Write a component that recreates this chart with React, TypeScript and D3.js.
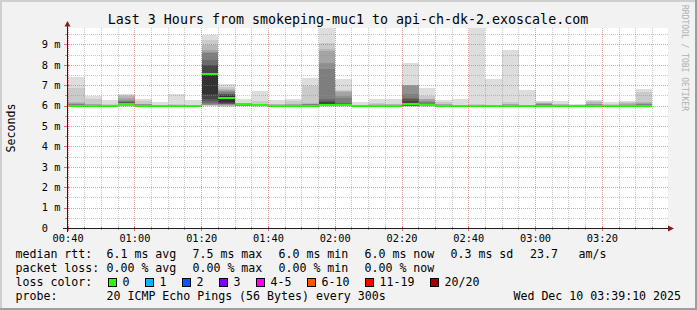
import React from "react";
import * as d3 from "d3";

const TITLE = "Last 3 Hours from smokeping-muc1 to api-ch-dk-2.exoscale.com";

// 5-minute steps (start of each step)
const stepStart = [
  "00:40", "00:45", "00:50", "00:55", "01:00", "01:05", "01:10", "01:15",
  "01:20", "01:25", "01:30", "01:35", "01:40", "01:45", "01:50", "01:55",
  "02:00", "02:05", "02:10", "02:15", "02:20", "02:25", "02:30", "02:35",
  "02:40", "02:45", "02:50", "02:55", "03:00", "03:05", "03:10", "03:15",
  "03:20", "03:25", "03:30",
];

// median rtt per step (ms)
const medianRtt = [
  6.0, 6.0, 6.0, 6.07, 6.0, 6.0, 6.0, 6.0,
  7.54, 6.36, 6.07, 6.01, 5.99, 5.99, 5.99, 6.05,
  6.05, 6.0, 5.99, 5.99, 6.07, 6.05, 6.0, 5.99,
  5.99, 5.99, 5.99, 5.99, 5.99, 5.99, 5.99, 5.99,
  5.99, 5.99, 6.0,
];

// 20 sorted ping rtts per step (ms)
const pingsMs = [
  [5.95, 5.96, 5.97, 5.98, 5.98, 5.99, 5.99, 6.0, 6.0, 6.0, 6.01, 6.02, 6.03, 6.05, 6.08, 6.1, 6.12, 6.18, 6.87, 7.39],
  [5.95, 5.96, 5.97, 5.98, 5.98, 5.99, 5.99, 6.0, 6.0, 6.0, 6.01, 6.01, 6.02, 6.03, 6.04, 6.05, 6.08, 6.1, 6.3, 6.46],
  [5.95, 5.96, 5.97, 5.98, 5.99, 5.99, 6.0, 6.0, 6.0, 6.0, 6.01, 6.01, 6.02, 6.02, 6.03, 6.03, 6.04, 6.05, 6.06, 6.26],
  [5.95, 5.97, 5.98, 6.0, 6.01, 6.02, 6.03, 6.04, 6.05, 6.06, 6.09, 6.12, 6.15, 6.18, 6.22, 6.28, 6.35, 6.45, 6.54, 6.59],
  [5.95, 5.96, 5.97, 5.98, 5.99, 5.99, 6.0, 6.0, 6.0, 6.0, 6.01, 6.02, 6.03, 6.04, 6.05, 6.07, 6.09, 6.1, 6.2, 6.3],
  [5.95, 5.96, 5.97, 5.98, 5.99, 5.99, 6.0, 6.0, 6.0, 6.0, 6.01, 6.01, 6.02, 6.02, 6.03, 6.03, 6.04, 6.04, 6.05, 6.18],
  [5.95, 5.96, 5.97, 5.98, 5.99, 5.99, 6.0, 6.0, 6.0, 6.0, 6.01, 6.01, 6.02, 6.02, 6.03, 6.03, 6.04, 6.05, 6.1, 6.59],
  [5.95, 5.96, 5.97, 5.98, 5.99, 5.99, 6.0, 6.0, 6.0, 6.0, 6.01, 6.01, 6.02, 6.02, 6.03, 6.03, 6.04, 6.04, 6.05, 6.26],
  [5.99, 6.0, 6.01, 6.03, 6.05, 6.08, 6.12, 6.2, 6.31, 6.56, 7.6, 7.98, 8.0, 8.23, 8.58, 8.61, 8.72, 8.98, 9.21, 9.48],
  [5.95, 5.98, 6.0, 6.02, 6.04, 6.06, 6.08, 6.1, 6.12, 6.15, 6.45, 6.5, 6.55, 6.59, 6.65, 6.72, 6.76, 6.8, 6.92, 7.05],
  [5.96, 5.97, 5.98, 5.99, 6.0, 6.01, 6.02, 6.03, 6.04, 6.05, 6.08, 6.09, 6.09, 6.1, 6.1, 6.11, 6.11, 6.12, 6.12, 6.31],
  [5.95, 5.96, 5.97, 5.98, 5.99, 5.99, 6.0, 6.0, 6.0, 6.01, 6.02, 6.03, 6.04, 6.05, 6.06, 6.07, 6.08, 6.1, 6.2, 6.72],
  [5.94, 5.95, 5.96, 5.97, 5.98, 5.98, 5.99, 5.99, 5.99, 6.0, 6.0, 6.01, 6.01, 6.02, 6.03, 6.04, 6.05, 6.07, 6.1, 6.26],
  [5.94, 5.95, 5.96, 5.97, 5.98, 5.98, 5.99, 5.99, 5.99, 6.0, 6.0, 6.01, 6.02, 6.03, 6.04, 6.05, 6.07, 6.1, 6.2, 6.33],
  [5.94, 5.95, 5.96, 5.97, 5.98, 5.98, 5.99, 5.99, 5.99, 6.0, 6.01, 6.02, 6.03, 6.04, 6.06, 6.08, 6.1, 6.13, 6.95, 7.33],
  [5.95, 5.97, 5.98, 5.99, 6.0, 6.0, 6.01, 6.01, 6.02, 6.03, 6.1, 6.15, 6.22, 6.3, 7.77, 8.1, 8.67, 8.79, 9.05, 10.3],
  [5.95, 5.96, 5.97, 5.98, 5.99, 6.0, 6.0, 6.01, 6.02, 6.03, 6.06, 6.08, 6.1, 6.13, 6.38, 6.49, 6.66, 6.7, 6.75, 7.28],
  [5.94, 5.95, 5.96, 5.97, 5.98, 5.98, 5.99, 5.99, 6.0, 6.0, 6.0, 6.01, 6.01, 6.02, 6.02, 6.03, 6.03, 6.04, 6.05, 6.15],
  [5.94, 5.95, 5.96, 5.97, 5.98, 5.98, 5.99, 5.99, 5.99, 6.0, 6.0, 6.01, 6.01, 6.02, 6.03, 6.04, 6.05, 6.07, 6.12, 6.34],
  [5.94, 5.95, 5.96, 5.97, 5.98, 5.98, 5.99, 5.99, 5.99, 6.0, 6.0, 6.01, 6.01, 6.02, 6.03, 6.04, 6.05, 6.06, 6.1, 6.34],
  [5.95, 5.96, 5.97, 5.98, 5.99, 6.0, 6.0, 6.01, 6.02, 6.03, 6.1, 6.21, 6.3, 6.38, 6.58, 6.98, 6.99, 7.0, 7.03, 8.08],
  [5.95, 5.96, 5.97, 5.98, 5.99, 6.0, 6.0, 6.01, 6.02, 6.03, 6.06, 6.07, 6.08, 6.1, 6.15, 6.21, 6.3, 6.33, 6.46, 6.84],
  [5.94, 5.95, 5.96, 5.97, 5.98, 5.98, 5.99, 5.99, 6.0, 6.0, 6.0, 6.01, 6.02, 6.03, 6.04, 6.05, 6.06, 6.08, 6.15, 6.26],
  [5.94, 5.95, 5.96, 5.97, 5.98, 5.98, 5.99, 5.99, 6.0, 6.0, 6.0, 6.01, 6.01, 6.02, 6.02, 6.03, 6.03, 6.04, 6.05, 6.3],
  [5.93, 5.94, 5.95, 5.96, 5.97, 5.98, 5.98, 5.99, 5.99, 5.99, 6.0, 6.0, 6.01, 6.01, 6.02, 6.02, 6.03, 6.04, 6.08, 10.5],
  [5.93, 5.94, 5.95, 5.96, 5.97, 5.98, 5.98, 5.99, 5.99, 5.99, 6.0, 6.0, 6.01, 6.01, 6.02, 6.02, 6.03, 6.04, 6.05, 7.28],
  [5.93, 5.94, 5.95, 5.96, 5.97, 5.98, 5.98, 5.99, 5.99, 5.99, 6.0, 6.0, 6.01, 6.02, 6.03, 6.04, 6.06, 6.1, 6.16, 8.71],
  [5.93, 5.94, 5.95, 5.96, 5.97, 5.98, 5.98, 5.99, 5.99, 5.99, 6.0, 6.0, 6.01, 6.01, 6.02, 6.02, 6.03, 6.04, 6.05, 6.74],
  [5.93, 5.94, 5.95, 5.96, 5.97, 5.98, 5.98, 5.99, 5.99, 5.99, 6.0, 6.01, 6.02, 6.04, 6.06, 6.08, 6.12, 6.14, 6.16, 6.21],
  [5.93, 5.94, 5.95, 5.96, 5.97, 5.98, 5.98, 5.99, 5.99, 5.99, 6.0, 6.0, 6.01, 6.01, 6.02, 6.03, 6.04, 6.06, 6.1, 6.2],
  [5.93, 5.94, 5.95, 5.96, 5.97, 5.98, 5.98, 5.99, 5.99, 5.99, 6.0, 6.0, 6.01, 6.01, 6.02, 6.02, 6.03, 6.04, 6.05, 6.1],
  [5.93, 5.94, 5.95, 5.96, 5.97, 5.98, 5.98, 5.99, 5.99, 5.99, 6.0, 6.01, 6.02, 6.03, 6.04, 6.06, 6.1, 6.18, 6.21, 6.25],
  [5.93, 5.94, 5.95, 5.96, 5.97, 5.98, 5.98, 5.99, 5.99, 5.99, 6.0, 6.0, 6.01, 6.01, 6.02, 6.02, 6.03, 6.04, 6.06, 6.15],
  [5.93, 5.94, 5.95, 5.96, 5.97, 5.98, 5.98, 5.99, 5.99, 5.99, 6.0, 6.0, 6.01, 6.02, 6.03, 6.04, 6.06, 6.12, 6.17, 6.2],
  [5.93, 5.94, 5.95, 5.96, 5.97, 5.98, 5.98, 5.99, 5.99, 6.0, 6.0, 6.01, 6.02, 6.04, 6.07, 6.1, 6.12, 6.16, 6.66, 6.79],
];

const xTickLabels = ["00:40", "01:00", "01:20", "01:40", "02:00", "02:20", "02:40", "03:00", "03:20"];
const yTickValues = [0, 1, 2, 3, 4, 5, 6, 7, 8, 9];
const yTickLabels = ["0", "1 m", "2 m", "3 m", "4 m", "5 m", "6 m", "7 m", "8 m", "9 m"];

const rttLegend = ["6.1 ms avg", "7.5 ms max", "6.0 ms min", "6.0 ms now", "0.3 ms sd"];
const rttExtra = ["23.7", "am/s"];
const lossLegend = ["0.00 % avg", "0.00 % max", "0.00 % min", "0.00 % now"];
const lossLabels = ["0", "1", "2", "3", "4-5", "6-10", "11-19", "20/20"];
const lossColors = ["#26ff00", "#00b8ff", "#0059ff", "#7e00ff", "#ff00ff", "#ff5500", "#ff0000", "#a10000"];
const probeText = "20 ICMP Echo Pings (56 Bytes) every 300s";
const dateText = "Wed Dec 10 03:39:10 2025";

const FONT = "'DejaVu Sans Mono', monospace";
const W = 697;
const H = 310;

const toMin = (s: string) => {
  const [h, m] = s.split(":").map(Number);
  return h * 60 + m;
};

export default function App() {
  const tStart = toMin("00:39") + 40 / 60;
  const tEnd = toMin("03:39") + 40 / 60;
  const x = d3.scaleLinear().domain([tStart, tEnd]).range([67, 668]);
  const y = d3.scaleLinear().domain([0, 9.8]).range([228, 28]);
  const [px0, px1] = x.range();
  const [py0, py1] = y.range();

  const minorX = d3.range(toMin("00:40"), tEnd, 5);
  const majorX = xTickLabels.map(toMin);
  const minorY = d3.range(0.5, 9.8, 0.5).filter((v) => Math.abs(v - Math.round(v)) > 0.01);
  const majorY = yTickValues.filter((v) => v > 0);

  const gx = (t: number) => Math.floor(x(t)) + 0.5;
  const gy = (v: number) => Math.round(y(v)) + 0.5;

  const gridMinor = "rgba(143,143,143,0.5)";
  const gridMajor = "rgba(222,79,79,0.55)";

  const legendX = 15.5;
  const colX = 106.5;
  const colStep = 86;
  const rowY = [258.3, 272.2, 286.1, 300];

  let boxX = 108.5;
  const lossItems = lossLabels.map((lab, i) => {
    const item = { lab, col: lossColors[i], bx: boxX };
    boxX += 30 + 7 * lab.length;
    return item;
  });

  return (
    <svg
      width={W}
      height={H}
      style={{ position: "absolute", left: 0, top: 0, display: "block" }}
      fontFamily={FONT}
    >
      <defs>
        <clipPath id="plotClip">
          <rect x={px0} y={py1} width={px1 - px0} height={py0 - py1} />
        </clipPath>
      </defs>
      <rect x={0} y={0} width={W} height={H} fill="#f2f2f2" />
      {/* 3d frame */}
      <rect x={0} y={0} width={W} height={2} fill="#cfcfcf" />
      <rect x={0} y={0} width={2} height={H} fill="#cfcfcf" />
      <rect x={0} y={H - 2} width={W} height={2} fill="#9e9e9e" />
      <rect x={W - 2} y={0} width={2} height={H} fill="#9e9e9e" />

      {/* canvas */}
      <rect x={px0} y={py1} width={px1 - px0} height={py0 - py1} fill="#ffffff" />

      {/* smoke */}
      <g clipPath="url(#plotClip)" shapeRendering="crispEdges">
        {stepStart.map((s, i) => {
          const t = toMin(s);
          const x0 = Math.round(x(t));
          const x1 = Math.round(x(t + 5));
          const p = pingsMs[i];
          return (
            <g key={s}>
              {d3.range(1, 11).map((ibot) => {
                const lo = p[ibot - 1];
                const hi = p[20 - ibot];
                const g = Math.floor((190 / 10) * (10 - ibot)) + 50;
                const yt = Math.round(y(Math.min(hi, 10.2)));
                const yb = Math.round(y(lo));
                if (yb - yt <= 0) return null;
                return (
                  <rect key={ibot} x={x0} width={x1 - x0} y={yt} height={yb - yt} fill={d3.rgb(g, g, g).formatHex()} />
                );
              })}
            </g>
          );
        })}
        {stepStart.map((s, i) => {
          const t = toMin(s);
          const x0 = Math.round(x(t));
          const x1 = Math.round(x(t + 5));
          const ym = Math.round(y(medianRtt[i]) - 1);
          return <rect key={"m" + s} x={x0} width={x1 - x0} y={ym} height={2} fill={lossColors[0]} />;
        })}
      </g>

      {/* grid (drawn on top, semi-transparent) */}
      <g strokeWidth={1} strokeDasharray="1,1" fill="none">
        {minorX
          .filter((t) => !majorX.includes(t))
          .map((t) => (
            <line key={"mx" + t} x1={gx(t)} x2={gx(t)} y1={py1} y2={py0} stroke={gridMinor} />
          ))}
        {minorY.map((v) => (
          <line key={"my" + v} x1={px0} x2={px1} y1={gy(v)} y2={gy(v)} stroke={gridMinor} />
        ))}
        {majorX.map((t) => (
          <line key={"Mx" + t} x1={gx(t)} x2={gx(t)} y1={py1} y2={py0} stroke={gridMajor} />
        ))}
        {majorY.map((v) => (
          <line key={"My" + v} x1={px0} x2={px1} y1={gy(v)} y2={gy(v)} stroke={gridMajor} />
        ))}
      </g>

      {/* axis ticks */}
      <g strokeWidth={1} shapeRendering="crispEdges">
        {minorX.map((t) => (
          <line key={"tx" + t} x1={gx(t)} x2={gx(t)} y1={py0 - 1} y2={py0 + 2} stroke="#a0a0a0" />
        ))}
        {majorX.map((t) => (
          <line key={"Tx" + t} x1={gx(t)} x2={gx(t)} y1={py0 - 2} y2={py0 + 3} stroke="#e07070" />
        ))}
        {minorY.map((v) => (
          <line key={"ty" + v} x1={px0 - 2} x2={px0 + 1} y1={gy(v)} y2={gy(v)} stroke="#a0a0a0" />
        ))}
        {majorY.map((v) => (
          <line key={"Ty" + v} x1={px0 - 3} x2={px0 + 2} y1={gy(v)} y2={gy(v)} stroke="#e07070" />
        ))}
      </g>

      {/* axes */}
      <g shapeRendering="crispEdges">
        <line x1={63} x2={669} y1={py0 + 0.5} y2={py0 + 0.5} stroke="#1f1f1f" strokeWidth={1} />
        <line x1={px0 + 0.5} x2={px0 + 0.5} y1={232} y2={25} stroke="#1f1f1f" strokeWidth={1} />
      </g>
      <path d={`M668,${py0 - 2.5} L674,${py0 + 0.5} L668,${py0 + 3.5} Z`} fill="#801f1f" />
      <path d={`M${px0 - 2.5},26.5 L${px0 + 0.5},21 L${px0 + 3.5},26.5 Z`} fill="#801f1f" />

      {/* title */}
      <text x={348} y={23.5} textAnchor="middle" fontSize={13.3} fill="#000">
        {TITLE}
      </text>

      {/* y label */}
      <text transform="translate(14.5,128) rotate(-90)" textAnchor="middle" fontSize={11.6} fill="#000">
        Seconds
      </text>

      {/* side watermark */}
      <text transform="translate(682,5) rotate(90)" fontSize={8} fill="#b0b0b0">
        RRDTOOL / TOBI OETIKER
      </text>

      {/* y tick labels */}
      {yTickValues.map((v, i) => (
        <text key={"yl" + v} x={41.8} y={y(v) + 3.8} fontSize={10.3} fill="#000">
          {yTickLabels[i]}
        </text>
      ))}

      {/* x tick labels */}
      {xTickLabels.map((l) => (
        <text key={"xl" + l} x={x(toMin(l))} y={242} textAnchor="middle" fontSize={10.3} fill="#000">
          {l}
        </text>
      ))}

      {/* legend */}
      <g fontSize={11.6} fill="#000">
        <text x={legendX} y={rowY[0]}>median rtt:</text>
        {rttLegend.map((s, i) => (
          <text key={"r" + i} x={colX + colStep * i} y={rowY[0]}>
            {s}
          </text>
        ))}
        <text x={530} y={rowY[0]}>{rttExtra[0]}</text>
        <text x={578.6} y={rowY[0]}>{rttExtra[1]}</text>

        <text x={legendX} y={rowY[1]}>packet loss:</text>
        {lossLegend.map((s, i) => (
          <text key={"l" + i} x={colX + colStep * i} y={rowY[1]}>
            {s}
          </text>
        ))}

        <text x={legendX} y={rowY[2]}>loss color:</text>
        {lossItems.map((it) => (
          <g key={"lc" + it.lab}>
            <rect x={it.bx} y={278.5} width={8} height={8} fill={it.col} stroke="#000" strokeWidth={1} shapeRendering="crispEdges" />
            <text x={it.bx + 14} y={rowY[2]}>
              {it.lab}
            </text>
          </g>
        ))}

        <text x={legendX} y={rowY[3]}>probe:</text>
        <text x={colX} y={rowY[3]}>{probeText}</text>
        <text x={681} y={rowY[3]} textAnchor="end">
          {dateText}
        </text>
      </g>
    </svg>
  );
}
